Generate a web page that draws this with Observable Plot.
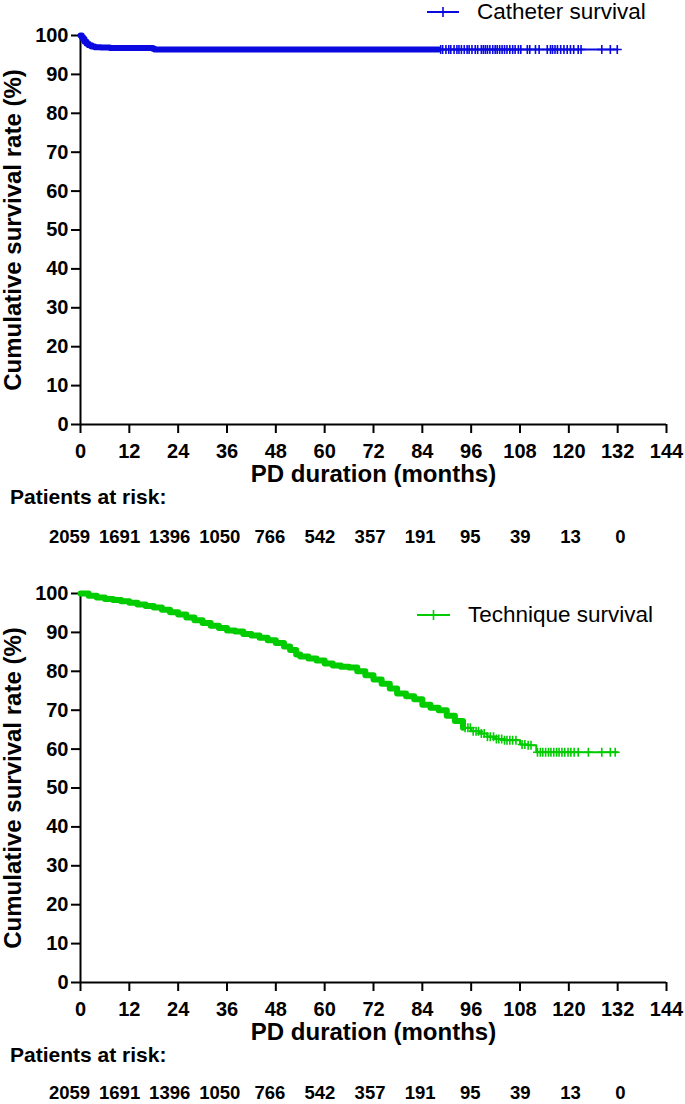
<!DOCTYPE html>
<html><head><meta charset="utf-8">
<script src="https://cdn.jsdelivr.net/npm/d3@7"></script>
<script src="https://cdn.jsdelivr.net/npm/@observablehq/plot@0.6"></script>
<style>
body{margin:0;background:#fff;font-family:"Liberation Sans",Arial,sans-serif;color:#000}
#wrap{position:relative;width:685px;height:1104px;overflow:hidden}
.panel{position:absolute;left:0;width:685px;height:558px}
.panel svg{position:absolute;left:0}
.risk-title{position:absolute;left:10px;top:486px;font-weight:bold;font-size:21px;line-height:21px;white-space:nowrap}
.legend{position:absolute;display:flex;align-items:center;font-size:22.5px;line-height:24px;white-space:nowrap}
.legend svg{position:static}
</style></head><body><div id="wrap"></div>
<script>
// ---- data ----
const xTicks = [0, 12, 24, 36, 48, 60, 72, 84, 96, 108, 120, 132, 144];
const yTicks = [0, 10, 20, 30, 40, 50, 60, 70, 80, 90, 100];
const xLabel = "PD duration (months)";
const yLabel = "Cumulative survival rate (%)";
const riskLabel = "Patients at risk:";
const riskMonths = [0, 12, 24, 36, 48, 60, 72, 84, 96, 108, 120, 132];
const riskCounts = [2059, 1691, 1396, 1050, 766, 542, 357, 191, 95, 39, 13, 0];

// Catheter survival (months, %)
const catheterMonths   = [0, 0.3, 0.6, 1, 1.5, 2, 2.7, 3.5, 5, 7.2, 12, 17.8, 18.2, 88, 132];
const catheterSurvival = [100, 99.6, 99.1, 98.4, 97.9, 97.5, 97.2, 97.0, 96.9, 96.8, 96.8, 96.6, 96.4, 96.4, 96.4];
const catheterDenseUntil = 88;
const catheterCensored = [88.5, 89, 89.8, 90.5, 91, 91.8, 92.5, 93, 93.6, 94.3, 95, 95.5, 96.2, 97, 97.6,
  98.5, 99, 99.5, 100, 100.6, 101.3, 101.9, 102.4, 103, 103.6, 104.2, 104.8, 105.5, 106.2, 106.8, 107.6,
  108.2, 109.8, 110.4, 111.8, 112.7, 114.7, 115.5, 116, 116.6, 117.2, 118, 118.8, 119.6, 120.4, 121.2,
  122.3, 123, 128.1, 130.2, 131.9];

// Technique survival (months, %)
const techniqueMonths = [0, 2, 4, 6, 8, 10, 12, 14, 16, 18, 20, 22, 24, 26, 28, 30, 32, 34, 36, 38, 40, 42, 44, 46, 48,
  50, 51.5, 53, 54, 56, 58, 60, 62, 64, 66, 68, 70, 72, 74, 76, 77.8, 80, 82, 84, 86, 88, 90, 92, 94, 96, 98,
  100, 102, 104, 106, 108, 110, 112, 132];
const techniqueSurvival = [100, 99.4, 99.0, 98.6, 98.3, 98.0, 97.6, 97.2, 96.8, 96.4, 95.8, 95.2, 94.6, 93.8, 93.1,
  92.4, 91.7, 91.1, 90.5, 90.2, 89.6, 89.2, 88.6, 88.0, 87.3, 86.4, 85.5, 84.3, 83.8, 83.3, 82.8, 82.0, 81.5,
  81.2, 81.0, 80.0, 79.0, 77.9, 76.8, 75.6, 74.3, 73.6, 72.8, 71.4, 70.6, 70.0, 68.6, 67.2, 65.5, 64.6, 64.0,
  63.2, 62.6, 62.3, 62.3, 61.2, 61.0, 59.2, 59.2];
const techniqueDenseUntil = 94;
const techniqueCensored = [94.5, 95.2, 95.8, 96.5, 97.2, 97.8, 98.5, 99.2, 100, 100.7, 101.5, 102.2, 102.8,
  103.5, 104.2, 104.8, 105.5, 106.2, 107, 108.5, 109.2, 110, 110.7, 112.3, 113, 113.6, 114.3, 115, 115.6,
  116.3, 117, 117.6, 118.3, 119, 119.8, 120.5, 121.3, 122.3, 124.8, 128.1, 130.2, 131.4];

const catheterColor = "#0a0ae0";
const techniqueColor = "#00cc00";

// ---- drawing ----
const FONT = '"Liberation Sans", Arial, sans-serif';
const plusSymbol = {
  draw(ctx, size) {
    const r = Math.sqrt(size / Math.PI);
    ctx.moveTo(0, -r); ctx.lineTo(0, r);
    ctx.moveTo(-r, 0); ctx.lineTo(r, 0);
  }
};

function stepValue(months, surv, t) {
  let v = surv[0];
  for (let i = 0; i < months.length; i++) if (months[i] <= t) v = surv[i];
  return v;
}

function buildPanel({top, months, surv, denseUntil, censored, color, legendLabel, legendLeft, legendTop, lineLen, textGap, riskTop}) {
  const wrap = document.getElementById("wrap");
  const panel = document.createElement("div");
  panel.className = "panel";
  panel.style.top = top + "px";
  wrap.appendChild(panel);

  const curve = months.map((t, i) => ({t, s: surv[i]}));
  const dense = curve.filter(d => d.t <= denseUntil);
  const cens = censored.map(t => ({t, s: stepValue(months, surv, t)}));

  const chart = Plot.plot({
    width: 685, height: 500,
    marginLeft: 80, marginRight: 19, marginTop: 35, marginBottom: 76,
    x: {domain: [0, 144]},
    y: {domain: [0, 100]},
    style: {fontFamily: FONT, color: "#000", background: "transparent", overflow: "visible"},
    marks: [
      Plot.axisX({ticks: xTicks, tickSize: 9, tickPadding: 10, fontSize: 20, fontWeight: "bold", label: null, strokeWidth: 2, stroke: "#000", fill: "#000"}),
      Plot.axisY({ticks: yTicks, tickSize: 9, tickPadding: 3, fontSize: 20, fontWeight: "bold", label: null, strokeWidth: 2, stroke: "#000", fill: "#000"}),
      Plot.ruleX([0], {stroke: "#000", strokeWidth: 2}),
      Plot.ruleY([0], {stroke: "#000", strokeWidth: 2}),
      Plot.line(curve, {x: "t", y: "s", curve: "step-after", stroke: color, strokeWidth: 2}),
      Plot.line(dense, {x: "t", y: "s", curve: "step-after", stroke: color, strokeWidth: 6}),
      Plot.dot(cens, {x: "t", y: "s", symbol: plusSymbol, r: 4.5, stroke: color, strokeWidth: 1.6, fill: "none"}),
      Plot.text([xLabel], {text: d => d, frameAnchor: "bottom", dy: 57, fontSize: 24, fontWeight: "bold", fill: "#000"}),
      Plot.text([yLabel], {text: d => d, frameAnchor: "left", textAnchor: "middle", dx: -67, rotate: -90, fontSize: 24, fontWeight: "bold", fill: "#000"})
    ]
  });
  chart.style.top = "0px";
  panel.appendChild(chart);

  // legend
  const leg = document.createElement("div");
  leg.className = "legend";
  leg.style.left = legendLeft + "px";
  leg.style.top = (legendTop - 12) + "px";
  leg.innerHTML = `<svg width="${lineLen}" height="14" viewBox="0 0 ${lineLen} 14"><line x1="0" y1="7" x2="${lineLen}" y2="7" stroke="${color}" stroke-width="2"/><line x1="${lineLen/2}" y1="2" x2="${lineLen/2}" y2="12" stroke="${color}" stroke-width="1.6"/></svg><span style="margin-left:${textGap}px">${legendLabel}</span>`;
  panel.appendChild(leg);

  // patients at risk
  const rt = document.createElement("div");
  rt.className = "risk-title";
  rt.textContent = riskLabel;
  panel.appendChild(rt);

  const risk = riskMonths.map((m, i) => ({m, n: riskCounts[i]}));
  const row = Plot.plot({
    width: 685, height: 20, margin: 0,
    x: {domain: [0, 132], range: [69, 620], axis: null},
    style: {fontFamily: FONT, color: "#000", background: "transparent", overflow: "visible"},
    marks: [
      Plot.text(risk, {x: "m", text: d => String(d.n), frameAnchor: "middle", fontSize: 18.5, fontWeight: "bold", fill: "#000"})
    ]
  });
  row.style.top = riskTop + "px";
  panel.appendChild(row);
}

buildPanel({top: 0, months: catheterMonths, surv: catheterSurvival, denseUntil: catheterDenseUntil,
  censored: catheterCensored, color: catheterColor, legendLabel: "Catheter survival",
  legendLeft: 427, legendTop: 12, lineLen: 32, textGap: 18, riskTop: 527});
buildPanel({top: 558, months: techniqueMonths, surv: techniqueSurvival, denseUntil: techniqueDenseUntil,
  censored: techniqueCensored, color: techniqueColor, legendLabel: "Technique survival",
  legendLeft: 417, legendTop: 57, lineLen: 33, textGap: 18, riskTop: 525});
</script></body></html>
